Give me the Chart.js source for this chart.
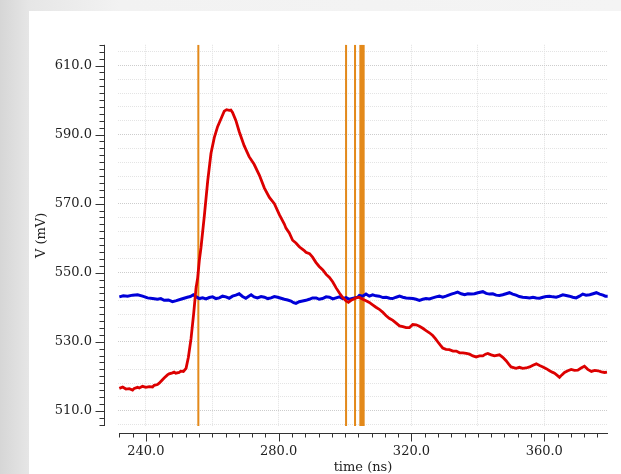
<!DOCTYPE html>
<html lang="en">
<head>
  <meta charset="UTF-8">
  <title>V vs time</title>
  <style>
    body {
      margin: 0;
      width: 621px;
      height: 474px;
      overflow: hidden;
      background: linear-gradient(to right, #d6d6d6 0px, #e6e6e6 29px, #f2f2f2 120px, #f4f4f4 100%);
    }
    .panel {
      position: absolute;
      left: 29px;
      top: 11px;
      width: 592px;
      height: 463px;
      background: white;
    }
  </style>
  <script src="https://cdn.jsdelivr.net/npm/chart.js"></script>
</head>
<body>
  <div class="panel">
    <canvas id="chart" width="592" height="463"></canvas>
  </div>

  <script>
    // axis ranges and tick values
    const xRange = [231.6, 379.2];
    const yRange = [505.6, 616];
    const xGridTicks = [240, 260, 280, 300, 320, 340, 360];
    const xLabelTicks = [240, 280, 320, 360];
    const yGridTicks = [506, 510, 514, 518, 522, 526, 530, 534, 538, 542, 546, 550, 554, 558, 562, 566, 570, 574, 578, 582, 586, 590, 594, 598, 602, 606, 610, 614];
    const yLabelTicks = [510, 530, 550, 570, 590, 610];

    // red trace (ns, mV)
    const redTime = [232.0, 233.0, 234.0, 235.0, 236.0, 236.5, 237.5, 238.0, 239.0, 240.0, 241.0, 242.0, 242.5, 243.5, 244.0, 245.0, 245.5, 246.5, 247.0, 248.0, 248.5, 249.0, 250.0, 250.5, 251.3, 252.1, 252.8, 253.6, 254.4, 255.1, 255.6, 256.1, 256.6, 257.6, 258.6, 259.6, 260.6, 261.6, 262.6, 263.6, 264.3, 265.1, 265.6, 266.1, 267.1, 268.1, 269.6, 271.1, 272.6, 274.2, 275.7, 277.2, 278.7, 280.2, 281.7, 282.2, 283.2, 284.2, 285.2, 286.2, 287.7, 288.2, 289.3, 290.2, 291.2, 292.2, 293.3, 294.3, 295.3, 296.3, 297.3, 298.3, 299.3, 300.3, 301.0, 301.8, 302.5, 303.3, 304.3, 305.3, 306.3, 307.3, 308.3, 309.3, 310.3, 311.3, 312.3, 313.3, 314.4, 315.4, 316.4, 317.4, 318.4, 319.4, 320.4, 321.4, 322.4, 323.4, 324.4, 325.4, 326.4, 327.2, 327.9, 328.7, 329.4, 330.4, 331.4, 332.5, 333.5, 334.5, 335.5, 336.5, 337.5, 338.5, 339.5, 340.5, 341.5, 342.3, 343.0, 344.0, 345.0, 346.5, 347.5, 348.5, 349.3, 350.0, 351.5, 352.5, 353.5, 354.5, 355.6, 356.6, 357.6, 358.6, 359.6, 360.6, 361.6, 362.4, 363.1, 364.0, 364.6, 365.3, 366.1, 367.1, 368.1, 369.1, 370.1, 371.1, 372.1, 373.1, 374.2, 375.2, 376.2, 377.2, 378.2, 378.9];
    const redVolt = [516.5, 516.9, 516.3, 516.4, 516.0, 516.5, 516.8, 516.6, 517.1, 516.8, 517.0, 516.9, 517.4, 517.6, 518.0, 519.0, 519.5, 520.4, 520.7, 521.0, 521.2, 520.9, 521.1, 521.5, 521.4, 522.3, 525.5, 530.9, 538.2, 545.5, 548.5, 553.6, 557.3, 566.4, 576.4, 584.5, 589.1, 592.3, 594.5, 596.8, 597.2, 597.0, 597.1, 596.4, 594.1, 590.9, 586.8, 583.6, 581.4, 578.2, 574.5, 571.8, 570.0, 566.8, 564.1, 562.9, 561.5, 559.4, 558.6, 557.5, 556.4, 555.9, 555.5, 554.5, 553.0, 551.8, 550.8, 549.5, 548.6, 547.3, 545.6, 544.1, 542.8, 541.8, 541.4, 542.0, 542.3, 542.7, 542.9, 542.3, 541.9, 541.4, 540.7, 540.0, 539.4, 538.6, 537.6, 536.8, 536.2, 535.4, 534.6, 534.4, 534.1, 534.1, 535.0, 534.9, 534.5, 533.9, 533.2, 532.6, 531.8, 530.9, 530.0, 529.0, 528.2, 527.8, 527.7, 527.3, 527.3, 526.8, 526.8, 526.6, 526.4, 525.9, 525.6, 525.9, 525.9, 526.4, 526.6, 526.2, 525.9, 526.2, 525.5, 524.5, 523.5, 522.7, 522.3, 522.6, 522.3, 522.4, 522.7, 523.2, 523.6, 523.1, 522.7, 522.2, 521.6, 521.2, 520.9, 520.2, 519.7, 520.4, 521.1, 521.6, 522.0, 521.7, 521.8, 522.4, 522.9, 522.0, 521.4, 521.7, 521.6, 521.3, 521.1, 521.2];

    // blue trace (ns, mV)
    const blueTime = [232.0, 233.2, 234.5, 236.0, 237.5, 239.0, 240.5, 242.0, 243.5, 244.5, 245.5, 246.8, 248.0, 249.2, 250.5, 251.5, 252.5, 253.4, 254.3, 255.2, 256.1, 257.1, 258.1, 259.1, 260.1, 261.1, 262.1, 263.1, 264.1, 265.1, 266.1, 267.1, 268.1, 269.1, 270.1, 271.0, 271.7, 272.6, 273.6, 274.7, 275.7, 276.7, 277.7, 278.7, 279.7, 280.7, 281.7, 282.7, 283.7, 284.5, 285.2, 286.2, 287.2, 288.2, 289.2, 290.2, 291.3, 292.2, 293.2, 294.3, 295.3, 296.3, 297.3, 298.3, 299.3, 300.3, 301.3, 302.5, 303.8, 304.3, 305.3, 306.3, 307.3, 308.3, 309.3, 310.3, 311.4, 312.4, 313.4, 314.3, 315.4, 316.4, 317.4, 318.4, 319.4, 320.4, 321.4, 322.4, 323.4, 324.4, 325.4, 326.4, 327.4, 328.4, 329.4, 330.4, 331.2, 332.0, 333.0, 333.9, 335.0, 336.0, 337.0, 338.0, 339.0, 340.0, 341.5, 342.5, 343.5, 344.5, 345.5, 346.5, 347.5, 348.5, 349.5, 350.5, 351.5, 352.5, 353.5, 354.5, 355.6, 356.6, 357.6, 358.6, 359.6, 360.6, 361.6, 362.6, 363.6, 364.6, 365.6, 366.6, 367.6, 368.6, 369.6, 370.6, 371.6, 372.6, 373.7, 374.7, 375.7, 376.7, 377.7, 378.4, 379.1];
    const blueVolt = [543.0, 543.3, 543.2, 543.5, 543.6, 543.2, 542.7, 542.5, 542.3, 542.5, 542.0, 542.1, 541.6, 541.9, 542.3, 542.6, 542.9, 543.1, 543.6, 543.0, 542.5, 542.7, 542.4, 542.8, 543.0, 542.5, 542.7, 543.2, 543.0, 542.6, 543.2, 543.5, 543.9, 543.1, 542.6, 543.2, 543.6, 543.0, 542.7, 543.1, 542.9, 542.5, 542.7, 543.1, 542.9, 542.6, 542.3, 542.1, 541.8, 541.3, 541.1, 541.6, 541.8, 542.0, 542.3, 542.7, 542.7, 542.3, 542.5, 543.0, 542.9, 542.4, 542.7, 543.0, 542.5, 542.8, 542.3, 542.6, 542.9, 543.4, 543.2, 543.8, 543.2, 543.6, 543.3, 543.2, 542.8, 542.9, 542.6, 542.5, 542.9, 543.2, 542.9, 542.7, 542.6, 542.5, 542.3, 542.0, 542.3, 542.5, 542.4, 542.7, 543.0, 543.2, 542.9, 543.2, 543.5, 543.8, 544.1, 544.4, 543.9, 543.6, 543.9, 543.8, 543.9, 544.2, 544.5, 544.0, 543.8, 543.9, 543.5, 543.4, 543.6, 543.9, 544.2, 543.8, 543.5, 543.1, 542.9, 542.8, 542.7, 542.9, 542.7, 542.6, 542.9, 543.1, 543.2, 543.0, 542.9, 543.2, 543.6, 543.4, 543.2, 542.9, 542.7, 543.2, 543.8, 543.5, 543.6, 543.9, 544.2, 543.8, 543.5, 543.2, 543.2];

    // orange event markers (ns)
    const markerTimes = [255.8, 300.3, 303.0, 304.6, 305.1, 305.6];

    const toPoints = (xs, ys) => xs.map((x, i) => ({ x: x, y: ys[i] }));

    const datasets = [
      {
        label: 'red',
        data: toPoints(redTime, redVolt),
        borderColor: '#dc0000',
        borderWidth: 2.8,
        pointRadius: 0,
        order: 0
      },
      {
        label: 'blue',
        data: toPoints(blueTime, blueVolt),
        borderColor: '#0000d8',
        borderWidth: 3,
        pointRadius: 0,
        order: 1
      }
    ];
    markerTimes.forEach(t => {
      datasets.push({
        label: 'marker',
        data: [{ x: t, y: yRange[0] }, { x: t, y: yRange[1] }],
        borderColor: '#e3891a',
        borderWidth: 2,
        pointRadius: 0,
        order: 2
      });
    });

    // detached spines with major/minor ticks like the original plot
    const spines = {
      id: 'spines',
      afterDraw(chart) {
        const { ctx, chartArea, scales: { x, y } } = chart;
        const sx = chartArea.left - 13.5;
        const sy = chartArea.bottom + 7.5;
        ctx.save();
        ctx.strokeStyle = '#333';
        ctx.lineWidth = 1;
        ctx.beginPath();
        ctx.moveTo(sx, chartArea.top);
        ctx.lineTo(sx, chartArea.bottom);
        for (let v = 506; v <= yRange[1]; v += 2) {
          const py = Math.round(y.getPixelForValue(v)) + 0.5;
          const len = yLabelTicks.includes(v) ? 9 : 5;
          ctx.moveTo(sx - len, py);
          ctx.lineTo(sx, py);
        }
        ctx.moveTo(chartArea.left + 1, sy);
        ctx.lineTo(chartArea.right, sy);
        for (let v = 232; v <= xRange[1]; v += 4) {
          const px = Math.round(x.getPixelForValue(v)) + 0.5;
          const len = xLabelTicks.includes(v) ? 8 : 4;
          ctx.moveTo(px, sy);
          ctx.lineTo(px, sy + len);
        }
        ctx.stroke();
        ctx.restore();
      }
    };

    const tickFont = { family: "'DejaVu Serif', serif", size: 13 };

    new Chart(document.getElementById('chart'), {
      type: 'line',
      data: { datasets: datasets },
      plugins: [spines],
      options: {
        responsive: false,
        animation: false,
        layout: { padding: { top: 11, right: 13, left: 0, bottom: 0 } },
        plugins: {
          legend: { display: false },
          tooltip: { enabled: false }
        },
        scales: {
          x: {
            type: 'linear',
            min: xRange[0],
            max: xRange[1],
            afterBuildTicks: s => { s.ticks = xGridTicks.map(v => ({ value: v })); },
            afterFit: s => { s.height = 48; },
            ticks: {
              autoSkip: false,
              maxRotation: 0,
              padding: 18,
              color: '#222',
              font: tickFont,
              callback: v => xLabelTicks.includes(v) ? v.toFixed(1) : ''
            },
            grid: {
              drawTicks: false,
              color: '#e2e2e2'
            },
            border: { display: false, dash: [1, 1] },
            title: {
              display: true,
              text: 'time (ns)',
              color: '#222',
              font: { family: "'DejaVu Serif', serif", size: 13, lineHeight: 1 },
              padding: 0
            }
          },
          y: {
            type: 'linear',
            min: yRange[0],
            max: yRange[1],
            afterBuildTicks: s => { s.ticks = yGridTicks.map(v => ({ value: v })); },
            afterFit: s => { s.width = 89; },
            ticks: {
              autoSkip: false,
              padding: 26,
              color: '#222',
              font: tickFont,
              callback: v => yLabelTicks.includes(v) ? v.toFixed(1) : ''
            },
            grid: {
              drawTicks: false,
              color: ctx => yLabelTicks.includes(ctx.tick && ctx.tick.value) ? '#cdcdcd' : '#e4e4e4'
            },
            border: { display: false, dash: [1, 1] },
            title: {
              display: true,
              text: 'V (mV)',
              color: '#222',
              font: { family: "'DejaVu Serif', serif", size: 13 },
              padding: { top: 5, bottom: 0 }
            }
          }
        }
      }
    });
  </script>
</body>
</html>
